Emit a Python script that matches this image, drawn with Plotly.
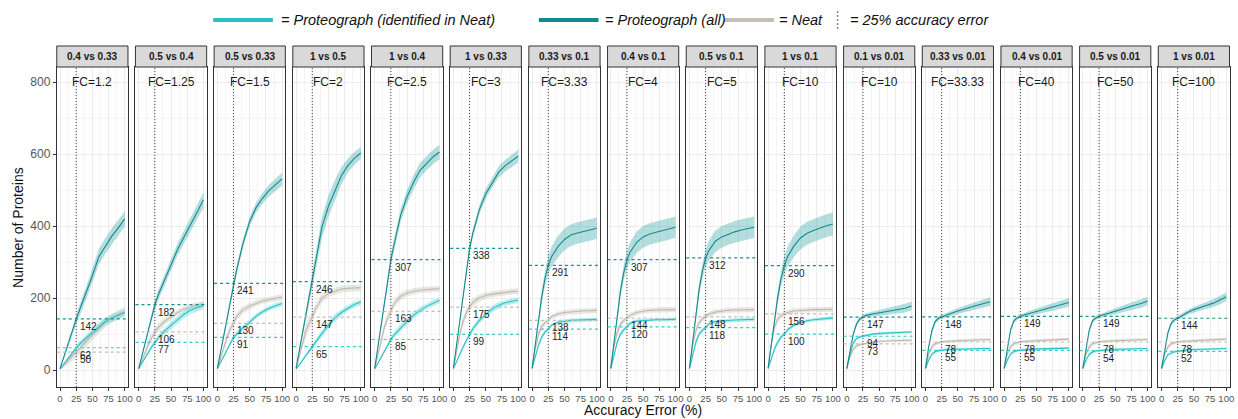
import plotly.graph_objects as go

# ---------------- data ----------------
CONTRASTS = ["0.4 vs 0.33", "0.5 vs 0.4", "0.5 vs 0.33", "1 vs 0.5", "1 vs 0.4",
             "1 vs 0.33", "0.33 vs 0.1", "0.4 vs 0.1", "0.5 vs 0.1", "1 vs 0.1",
             "0.1 vs 0.01", "0.33 vs 0.01", "0.4 vs 0.01", "0.5 vs 0.01", "1 vs 0.01"]
FC_LABELS = ["FC=1.2", "FC=1.25", "FC=1.5", "FC=2", "FC=2.5", "FC=3", "FC=3.33", "FC=4",
             "FC=5", "FC=10", "FC=10", "FC=33.33", "FC=40", "FC=50", "FC=100"]

X_ERR = [0, 5, 10, 15, 20, 25, 30, 40, 50, 60, 70, 80, 90, 100]

# Proteograph (all)
ALL_MEAN = [
    [4, 30, 58, 86, 114, 142, 165, 212, 262, 315, 345, 372, 395, 420],
    [4, 40, 78, 115, 150, 182, 208, 250, 295, 335, 370, 402, 438, 473],
    [5, 52, 99, 147, 194, 241, 280, 355, 413, 452, 478, 499, 515, 531],
    [5, 55, 105, 155, 200, 246, 296, 397, 455, 500, 540, 568, 588, 603],
    [5, 65, 125, 185, 248, 307, 350, 430, 482, 522, 555, 575, 592, 606],
    [5, 72, 140, 205, 272, 338, 380, 445, 490, 522, 550, 568, 582, 594],
    [5, 75, 145, 205, 255, 291, 315, 343, 363, 375, 381, 386, 390, 394],
    [5, 80, 155, 220, 270, 307, 328, 355, 370, 378, 383, 388, 393, 397],
    [5, 80, 158, 225, 275, 312, 332, 358, 370, 378, 384, 389, 393, 397],
    [5, 75, 145, 205, 255, 290, 315, 345, 367, 380, 388, 395, 401, 406],
    [5, 55, 100, 128, 142, 147, 152, 156, 159, 162, 165, 168, 172, 178],
    [5, 65, 110, 135, 144, 148, 152, 158, 164, 170, 175, 180, 185, 190],
    [5, 65, 112, 137, 145, 149, 153, 158, 163, 168, 173, 178, 183, 188],
    [5, 65, 112, 137, 145, 149, 153, 158, 164, 170, 175, 180, 185, 192],
    [5, 60, 105, 130, 140, 144, 150, 160, 168, 175, 180, 186, 194, 204],
]
ALL_SD = [
    [2, 5, 8, 10, 12, 14, 16, 18, 20, 22, 22, 22, 22, 22],
    [2, 5, 8, 10, 12, 13, 14, 15, 16, 17, 18, 19, 20, 22],
    [2, 5, 8, 10, 11, 12, 12, 12, 13, 14, 15, 16, 17, 18],
    [2, 6, 10, 14, 18, 22, 26, 30, 30, 28, 24, 20, 18, 16],
    [2, 6, 10, 13, 15, 16, 17, 18, 19, 20, 20, 20, 20, 20],
    [2, 5, 8, 10, 11, 12, 12, 13, 14, 15, 16, 16, 17, 18],
    [2, 8, 14, 18, 22, 25, 28, 30, 30, 30, 30, 30, 30, 30],
    [2, 8, 14, 18, 22, 25, 28, 30, 30, 30, 30, 30, 30, 30],
    [2, 8, 14, 18, 22, 25, 28, 30, 30, 30, 30, 30, 30, 30],
    [2, 8, 14, 18, 22, 25, 28, 30, 32, 32, 32, 32, 32, 32],
    [2, 5, 6, 6, 6, 6, 6, 7, 8, 9, 10, 11, 12, 12],
    [2, 5, 6, 6, 6, 6, 6, 7, 8, 9, 10, 11, 12, 12],
    [2, 5, 6, 6, 6, 6, 6, 7, 8, 9, 10, 11, 12, 12],
    [2, 5, 6, 6, 6, 6, 6, 7, 8, 9, 10, 11, 12, 12],
    [2, 5, 6, 6, 6, 6, 6, 7, 8, 9, 10, 11, 12, 12],
]

# Proteograph (identified in Neat)
IDENT_MEAN = [
    [3, 14, 26, 38, 50, 62, 72, 88, 104, 120, 135, 145, 152, 160],
    [4, 20, 36, 50, 64, 77, 89, 108, 125, 140, 155, 166, 173, 179],
    [4, 22, 40, 58, 75, 91, 100, 118, 133, 150, 162, 172, 179, 185],
    [3, 14, 27, 40, 53, 65, 78, 102, 124, 145, 160, 172, 182, 189],
    [3, 20, 37, 53, 70, 85, 98, 118, 135, 152, 166, 177, 186, 194],
    [4, 25, 45, 64, 82, 99, 115, 138, 155, 170, 180, 187, 191, 194],
    [4, 40, 70, 92, 106, 114, 125, 133, 136, 138, 139, 140, 140, 141],
    [4, 45, 78, 100, 112, 120, 130, 136, 138, 139, 140, 140, 141, 141],
    [4, 45, 78, 100, 111, 118, 128, 135, 137, 138, 139, 140, 140, 141],
    [4, 35, 60, 78, 92, 100, 112, 125, 132, 137, 140, 142, 144, 145],
    [4, 45, 75, 88, 92, 94, 97, 100, 102, 103, 104, 105, 105, 106],
    [4, 28, 45, 51, 54, 55, 57, 58, 58, 59, 59, 60, 60, 60],
    [4, 28, 45, 51, 54, 55, 57, 58, 59, 59, 60, 60, 61, 61],
    [4, 28, 44, 50, 53, 54, 56, 57, 58, 58, 59, 59, 60, 60],
    [4, 27, 43, 48, 51, 52, 54, 56, 57, 58, 58, 59, 59, 60],
]
IDENT_SD = [
    [1, 3, 4, 5, 6, 7, 8, 9, 10, 10, 10, 10, 10, 10],
    [1, 3, 4, 5, 6, 7, 8, 9, 10, 10, 10, 10, 10, 10],
    [1, 3, 4, 5, 6, 7, 7, 7, 7, 7, 7, 7, 7, 7],
    [1, 3, 4, 5, 6, 7, 8, 9, 10, 10, 9, 8, 8, 8],
    [1, 3, 4, 5, 6, 7, 8, 9, 9, 9, 9, 8, 8, 8],
    [1, 3, 4, 5, 6, 7, 8, 9, 9, 9, 9, 8, 8, 8],
    [1, 4, 6, 6, 6, 5, 5, 5, 5, 5, 5, 5, 5, 5],
    [1, 4, 6, 6, 6, 5, 5, 5, 5, 5, 5, 5, 5, 5],
    [1, 4, 6, 6, 6, 5, 5, 5, 5, 5, 5, 5, 5, 5],
    [1, 4, 6, 6, 6, 5, 5, 5, 5, 5, 5, 5, 5, 5],
    [1, 3, 4, 4, 4, 3, 3, 3, 3, 3, 3, 3, 3, 3],
    [1, 3, 4, 4, 4, 3, 3, 3, 3, 3, 3, 3, 3, 3],
    [1, 3, 4, 4, 4, 3, 3, 3, 3, 3, 3, 3, 3, 3],
    [1, 3, 4, 4, 4, 3, 3, 3, 3, 3, 3, 3, 3, 3],
    [1, 3, 4, 4, 4, 3, 3, 3, 3, 3, 3, 3, 3, 3],
]

# Neat
NEAT_MEAN = [
    [3, 12, 22, 31, 40, 50, 60, 78, 98, 117, 133, 145, 154, 163],
    [4, 28, 50, 72, 90, 106, 118, 135, 148, 160, 170, 176, 180, 183],
    [4, 35, 65, 92, 115, 130, 150, 168, 178, 186, 192, 196, 200, 203],
    [5, 40, 75, 108, 130, 147, 170, 200, 213, 220, 225, 227, 228, 229],
    [5, 45, 85, 120, 145, 163, 185, 205, 214, 219, 222, 224, 225, 226],
    [5, 55, 100, 135, 160, 175, 188, 200, 207, 211, 214, 216, 218, 219],
    [5, 60, 100, 122, 132, 138, 148, 156, 160, 162, 164, 165, 165, 166],
    [5, 65, 105, 127, 138, 144, 152, 160, 164, 166, 167, 168, 168, 168],
    [5, 68, 110, 132, 142, 148, 155, 161, 164, 166, 167, 168, 168, 168],
    [5, 75, 120, 142, 151, 156, 160, 164, 166, 167, 168, 168, 169, 169],
    [4, 38, 58, 67, 71, 73, 76, 78, 80, 81, 82, 82, 83, 83],
    [4, 45, 65, 73, 76, 78, 80, 81, 82, 83, 84, 84, 85, 85],
    [4, 45, 65, 73, 76, 78, 80, 81, 82, 83, 84, 85, 85, 86],
    [4, 45, 65, 73, 76, 78, 80, 81, 82, 83, 84, 84, 85, 85],
    [4, 45, 65, 73, 76, 78, 80, 81, 82, 83, 84, 85, 85, 86],
]
NEAT_SD = [
    [2, 6, 9, 12, 14, 15, 16, 16, 16, 15, 14, 13, 13, 13],
    [2, 6, 10, 12, 12, 12, 11, 10, 9, 8, 8, 8, 8, 8],
    [2, 6, 10, 12, 12, 12, 11, 10, 9, 8, 8, 8, 8, 8],
    [2, 8, 14, 18, 18, 16, 14, 12, 10, 9, 9, 9, 9, 9],
    [2, 6, 10, 12, 12, 12, 11, 10, 9, 8, 8, 8, 8, 8],
    [2, 6, 10, 12, 12, 12, 11, 10, 9, 8, 8, 8, 8, 8],
    [2, 8, 10, 9, 8, 7, 7, 7, 7, 7, 7, 7, 7, 7],
    [2, 8, 10, 9, 8, 7, 7, 7, 7, 7, 7, 7, 7, 7],
    [2, 8, 10, 9, 8, 7, 7, 7, 7, 7, 7, 7, 7, 7],
    [2, 8, 10, 9, 8, 7, 7, 7, 7, 7, 7, 7, 7, 7],
    [2, 6, 6, 5, 5, 4, 4, 4, 4, 4, 4, 4, 4, 4],
    [2, 6, 6, 5, 5, 4, 4, 4, 4, 4, 4, 4, 4, 4],
    [2, 6, 6, 5, 5, 4, 4, 4, 4, 4, 4, 4, 4, 4],
    [2, 6, 6, 5, 5, 4, 4, 4, 4, 4, 4, 4, 4, 4],
    [2, 6, 6, 5, 5, 4, 4, 4, 4, 4, 4, 4, 4, 4],
]

# values at 25% accuracy error (dashed lines + labels)
ALL_AT25 = [142, 182, 241, 246, 307, 338, 291, 307, 312, 290, 147, 148, 149, 149, 144]
IDENT_AT25 = [62, 77, 91, 65, 85, 99, 114, 120, 118, 100, 94, 55, 55, 54, 52]
NEAT_AT25 = [50, 106, 130, 147, 163, 175, 138, 144, 148, 156, 73, 78, 78, 78, 78]

Y_TICKS = [0, 200, 400, 600, 800]
X_TICKS = [0, 25, 50, 75, 100]
CUTOFF = 25

# ---------------- style ----------------
W, H = 1238, 419
FONT = "Liberation Sans, Arial, Helvetica, sans-serif"
C_ALL, F_ALL = "#138A8E", "rgba(40,160,160,0.35)"
C_ID, F_ID = "#27C2C7", "rgba(60,205,210,0.35)"
C_NEAT, F_NEAT = "#BFB8B0", "rgba(200,194,186,0.40)"
BORDER = "#333333"

P_LEFT0, P_PITCH, P_W = 57, 79, 71.5
P_TOP, P_BOT, S_TOP = 67, 387, 46


def px(xp):
    return xp / W


def py(yp):
    return 1 - yp / H


fig = go.Figure()
shapes, annos = [], []

for k in range(15):
    sx = "" if k == 0 else str(k + 1)
    xa, ya = "x" + sx, "y" + sx
    series = [(NEAT_MEAN[k], NEAT_SD[k], C_NEAT, F_NEAT),
              (IDENT_MEAN[k], IDENT_SD[k], C_ID, F_ID),
              (ALL_MEAN[k], ALL_SD[k], C_ALL, F_ALL)]
    for m, s, c, f in series:
        up = [a + b for a, b in zip(m, s)]
        lo = [a - b for a, b in zip(m, s)]
        fig.add_trace(go.Scatter(x=X_ERR + X_ERR[::-1], y=up + lo[::-1], fill="toself",
                                 fillcolor=f, line=dict(width=0), mode="lines",
                                 hoverinfo="skip", showlegend=False, xaxis=xa, yaxis=ya))
    for m, s, c, f in series:
        fig.add_trace(go.Scatter(x=X_ERR, y=m, mode="lines", line=dict(color=c, width=1.1),
                                 showlegend=False, xaxis=xa, yaxis=ya))

    x0 = P_LEFT0 + P_PITCH * k
    x1 = x0 + P_W
    fig.layout["xaxis" + sx] = dict(
        domain=[px(x0), px(x1)], range=[-5, 105], anchor=ya, tickvals=X_TICKS,
        showgrid=True, gridcolor="#EBEBEB", gridwidth=1, zeroline=False,
        minor=dict(tickvals=[12.5, 37.5, 62.5, 87.5], showgrid=True, gridcolor="#F4F4F4", gridwidth=0.6),
        showline=True, mirror=True, linecolor=BORDER, linewidth=1,
        ticks="outside", ticklen=3, tickcolor=BORDER, tickwidth=1, tickangle=0,
        tickfont=dict(size=9.5, color="#555555", family=FONT),
    )
    fig.layout["yaxis" + sx] = dict(
        domain=[py(P_BOT), py(P_TOP)], range=[-47, 842], anchor=xa, tickvals=Y_TICKS,
        showgrid=True, gridcolor="#EBEBEB", gridwidth=1, zeroline=False,
        minor=dict(tickvals=[100, 300, 500, 700], showgrid=True, gridcolor="#F4F4F4", gridwidth=0.6),
        showline=True, mirror=True, linecolor=BORDER, linewidth=1,
        ticks="outside" if k == 0 else "", ticklen=3, tickcolor=BORDER,
        showticklabels=(k == 0),
        tickfont=dict(size=12, color="#555555", family=FONT),
    )

    # strip
    shapes.append(dict(type="rect", xref="paper", yref="paper", x0=px(x0), x1=px(x1),
                       y0=py(P_TOP), y1=py(S_TOP), fillcolor="#D9D9D9",
                       line=dict(color=BORDER, width=1), layer="above"))
    annos.append(dict(xref="paper", yref="paper", x=px((x0 + x1) / 2), y=py((P_TOP + S_TOP) / 2),
                      xanchor="center", yanchor="middle",
                      text="<b>" + CONTRASTS[k] + "</b>", showarrow=False,
                      font=dict(size=10, color="#1A1A1A", family=FONT)))
    # FC label
    annos.append(dict(xref=xa, yref=ya, x=50, y=800, text=FC_LABELS[k], showarrow=False,
                      xanchor="center", yanchor="middle",
                      font=dict(size=12, color="#1A1A1A", family=FONT)))
    # 25% cutoff
    shapes.append(dict(type="line", xref=xa, yref=ya + " domain", x0=CUTOFF, x1=CUTOFF, y0=0, y1=1,
                       line=dict(color="#444444", width=1, dash="1px,2px")))
    # dashed reference lines + labels
    for val, col in [(NEAT_AT25[k], "#C3BDB6"), (IDENT_AT25[k], "#2FCBD0"), (ALL_AT25[k], "#15908F")]:
        shapes.append(dict(type="line", xref=xa + " domain", yref=ya, x0=0, x1=1, y0=val, y1=val,
                           line=dict(color=col, width=1.2, dash="3px,3px")))
        annos.append(dict(xref=xa, yref=ya, x=27.5, y=val, text=str(val), showarrow=False,
                          xanchor="left", yanchor="top", yshift=0,
                          font=dict(size=10, color="#222222", family=FONT)))

# axis titles
annos.append(dict(xref="paper", yref="paper", x=px(645.5), y=py(410), text="Accuracy Error (%)",
                  xanchor="center", yanchor="middle",
                  showarrow=False, font=dict(size=14, color="#111111", family=FONT)))
annos.append(dict(xref="paper", yref="paper", x=px(18), y=py(227), text="Number of Proteins",
                  xanchor="center", yanchor="middle",
                  textangle=-90, showarrow=False, font=dict(size=14, color="#111111", family=FONT)))

# legend (manual)
LEG_Y = 20
leg_items = [
    ("line", 214, 274, C_ID, 280, "= Proteograph (identified in Neat)"),
    ("line", 541, 601, C_ALL, 605, "= Proteograph (all)"),
    ("line", 727, 777, "#C4BEB7", 780, "= Neat"),
    ("dot", 841, 841, "#888888", 851, "= 25% accuracy error"),
]
for kind, a, b, col, tx, txt in leg_items:
    if kind == "line":
        shapes.append(dict(type="line", xref="paper", yref="paper", x0=px(a), x1=px(b),
                           y0=py(LEG_Y), y1=py(LEG_Y), line=dict(color=col, width=4)))
    else:
        shapes.append(dict(type="line", xref="paper", yref="paper", x0=px(a), x1=px(a),
                           y0=py(LEG_Y - 9), y1=py(LEG_Y + 9), line=dict(color=col, width=1.5, dash="2px,2px")))
    annos.append(dict(xref="paper", yref="paper", x=px(tx), y=py(LEG_Y), text="<i>" + txt + "</i>",
                      xanchor="left", yanchor="middle", showarrow=False,
                      font=dict(size=14.5, color="#111111", family=FONT)))

fig.update_layout(width=W, height=H, margin=dict(l=0, r=0, t=0, b=0),
                  paper_bgcolor="white", plot_bgcolor="white", showlegend=False,
                  shapes=shapes, annotations=annos)
fig.write_html("out.html", config={"displayModeBar": False},
               post_script="document.body.style.margin='0';document.body.style.overflow='hidden';")
